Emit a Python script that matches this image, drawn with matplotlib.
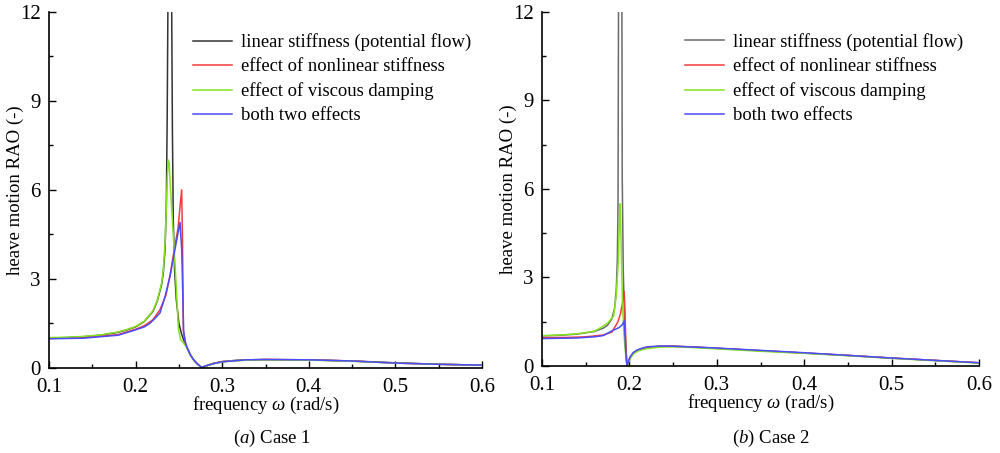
import matplotlib
matplotlib.use("Agg")
import matplotlib.pyplot as plt
from matplotlib.ticker import MultipleLocator

plt.rcParams["font.family"] = ["Liberation Serif", "DejaVu Serif"]
plt.rcParams["mathtext.fontset"] = "custom"
plt.rcParams["mathtext.rm"] = "Liberation Serif"
plt.rcParams["mathtext.it"] = "Liberation Serif:italic"

labels = ["linear stiffness (potential flow)", "effect of nonlinear stiffness",
          "effect of viscous damping", "both two effects"]
colors = [["#333333", "#f23c3c", "#86e21c", "#4a4aff"],
          ["#6a6a6a", "#f23c3c", "#86e21c", "#4a4aff"]]

# Case 1
f1_lin = [0.10, 0.12, 0.14, 0.16, 0.18, 0.19, 0.20, 0.21, 0.22, 0.225,
          0.23, 0.232, 0.234, 0.2355, 0.2365, 0.2375, 0.2415, 0.2425, 0.2435, 0.245,
          0.247, 0.25, 0.253, 0.256, 0.259, 0.263, 0.267, 0.271, 0.2763, 0.28,
          0.285, 0.29, 0.30, 0.315, 0.33, 0.35, 0.40, 0.45, 0.50, 0.55, 0.60]
r1_lin = [1.00, 1.02, 1.05, 1.10, 1.20, 1.28, 1.38, 1.56, 1.90, 2.25,
          2.80, 3.20, 4.00, 5.50, 8.50, 13.0, 13.0, 8.0, 5.0, 3.3,
          2.3, 1.5, 1.15, 0.90, 0.70, 0.45, 0.27, 0.14, 0.01, 0.05,
          0.10, 0.15, 0.21, 0.25, 0.27, 0.28, 0.27, 0.23, 0.17, 0.12, 0.09]

f1_nonl = [0.10, 0.14, 0.18, 0.20, 0.21, 0.22, 0.228, 0.235, 0.24, 0.245,
           0.249, 0.2515, 0.2532, 0.2542, 0.2551, 0.2575, 0.259, 0.263, 0.267, 0.271,
           0.2763, 0.28, 0.29, 0.30, 0.33, 0.35, 0.40, 0.45, 0.50, 0.55, 0.60]
r1_nonl = [0.99, 1.02, 1.12, 1.30, 1.42, 1.62, 1.95, 2.45, 3.15, 4.05,
           4.70, 5.50, 6.00, 4.20, 1.28, 0.85, 0.72, 0.45, 0.27, 0.14,
           0.01, 0.05, 0.15, 0.21, 0.27, 0.28, 0.27, 0.23, 0.16, 0.12, 0.09]

f1_visc = [0.10, 0.12, 0.14, 0.16, 0.18, 0.19, 0.20, 0.21, 0.22, 0.225,
           0.23, 0.232, 0.234, 0.2355, 0.2366, 0.2377, 0.2388, 0.240, 0.2418, 0.2435,
           0.2467, 0.2494, 0.252, 0.255, 0.259, 0.263, 0.267, 0.271, 0.2763, 0.28,
           0.285, 0.29, 0.30, 0.315, 0.33, 0.35, 0.40, 0.45, 0.50, 0.55, 0.60]
r1_visc = [1.02, 1.03, 1.06, 1.11, 1.21, 1.29, 1.39, 1.57, 1.92, 2.27,
           2.85, 3.30, 4.20, 5.40, 6.40, 7.00, 6.90, 6.20, 5.30, 4.50,
           2.86, 1.30, 0.95, 0.85, 0.68, 0.44, 0.26, 0.13, 0.01, 0.05,
           0.10, 0.14, 0.20, 0.24, 0.26, 0.27, 0.26, 0.22, 0.16, 0.12, 0.09]

f1_both = [0.10, 0.14, 0.18, 0.20, 0.21, 0.2165, 0.2228, 0.2282, 0.234, 0.2397,
           0.2455, 0.249, 0.2513, 0.2532, 0.2545, 0.2555, 0.2575, 0.259, 0.263, 0.267,
           0.271, 0.2763, 0.28, 0.29, 0.2994, 0.315, 0.328, 0.35, 0.40, 0.45,
           0.50, 0.55, 0.60]
r1_both = [0.98, 1.00, 1.10, 1.28, 1.38, 1.50, 1.68, 1.85, 2.40, 3.08,
           4.00, 4.55, 4.90, 4.00, 2.50, 1.20, 0.85, 0.72, 0.45, 0.27,
           0.14, 0.01, 0.06, 0.14, 0.20, 0.24, 0.27, 0.28, 0.27, 0.23,
           0.16, 0.12, 0.09]

# Case 2
f2_lin = [0.10, 0.12, 0.14, 0.16, 0.17, 0.175, 0.18, 0.183, 0.185, 0.1862,
          0.1870, 0.1876, 0.1914, 0.1918, 0.193, 0.1945, 0.1958, 0.1972, 0.199, 0.201,
          0.205, 0.21, 0.22, 0.235, 0.25, 0.27, 0.30, 0.35, 0.40, 0.45,
          0.50, 0.55, 0.60]
r2_lin = [1.02, 1.04, 1.08, 1.17, 1.28, 1.38, 1.60, 1.95, 2.60, 3.60,
          5.50, 12.8, 12.8, 6.40, 3.20, 1.60, 0.70, 0.00, 0.15, 0.30,
          0.45, 0.54, 0.62, 0.67, 0.67, 0.65, 0.60, 0.52, 0.44, 0.36,
          0.27, 0.19, 0.11]

f2_nonl = [0.10, 0.13, 0.15, 0.17, 0.18, 0.1869, 0.190, 0.1925, 0.194, 0.1948,
           0.1958, 0.1968, 0.1975, 0.199, 0.201, 0.205, 0.21, 0.22, 0.235, 0.25,
           0.27, 0.30, 0.35, 0.40, 0.45, 0.50, 0.55, 0.60]
r2_nonl = [0.96, 0.97, 0.99, 1.05, 1.15, 1.50, 1.80, 2.20, 2.52, 2.00,
           0.90, 0.20, 0.00, 0.15, 0.30, 0.45, 0.54, 0.62, 0.67, 0.67,
           0.65, 0.60, 0.52, 0.44, 0.36, 0.27, 0.19, 0.11]

f2_visc = [0.10, 0.12, 0.14, 0.16, 0.1667, 0.175, 0.182, 0.185, 0.1872, 0.1885,
           0.1895, 0.1905, 0.192, 0.1935, 0.195, 0.1965, 0.1975, 0.199, 0.201, 0.205,
           0.21, 0.22, 0.235, 0.25, 0.27, 0.30, 0.35, 0.40, 0.45, 0.50,
           0.55, 0.60]
r2_visc = [1.03, 1.05, 1.09, 1.18, 1.29, 1.45, 1.70, 2.40, 3.50, 4.80,
           5.50, 4.20, 2.20, 1.20, 0.60, 0.15, 0.00, 0.12, 0.26, 0.42,
           0.51, 0.59, 0.64, 0.65, 0.63, 0.58, 0.50, 0.43, 0.35, 0.26,
           0.18, 0.10]

f2_both = [0.10, 0.121, 0.14, 0.16, 0.17, 0.182, 0.188, 0.192, 0.1941, 0.195,
           0.196, 0.1972, 0.199, 0.201, 0.2045, 0.2086, 0.214, 0.22, 0.2353, 0.25,
           0.2924, 0.35, 0.40, 0.45, 0.50, 0.55, 0.60]
r2_both = [0.93, 0.94, 0.95, 0.99, 1.03, 1.22, 1.30, 1.40, 1.53, 1.00,
           0.40, 0.00, 0.18, 0.32, 0.46, 0.54, 0.60, 0.65, 0.68, 0.67,
           0.62, 0.53, 0.45, 0.36, 0.27, 0.19, 0.11]

cases = [
    [(f1_lin, r1_lin), (f1_nonl, r1_nonl), (f1_visc, r1_visc), (f1_both, r1_both)],
    [(f2_lin, r2_lin), (f2_nonl, r2_nonl), (f2_visc, r2_visc), (f2_both, r2_both)],
]
captions = ["($a$) Case 1", "($b$) Case 2"]

fig = plt.figure(figsize=(10, 4.53), dpi=100)
boxes = [[0.049, 0.188, 0.433, 0.786], [0.542, 0.192, 0.437, 0.782]]
leg_x = [0.333, 0.328]
cap_x = [0.272, 0.771]

for i, series in enumerate(cases):
    ax = fig.add_axes(boxes[i])
    for (f, r), c, lab in zip(series, colors[i], labels):
        ax.plot(f, r, color=c, lw=1.1, label=lab)
    ax.set_xlim(0.1, 0.6)
    ax.set_ylim(0, 12)
    ax.xaxis.set_major_locator(MultipleLocator(0.1))
    ax.xaxis.set_minor_locator(MultipleLocator(0.05))
    ax.yaxis.set_major_locator(MultipleLocator(3))
    ax.yaxis.set_minor_locator(MultipleLocator(1.5))
    ax.spines["top"].set_visible(False)
    ax.spines["right"].set_visible(False)
    ax.spines["left"].set_linewidth(1.2)
    ax.spines["bottom"].set_linewidth(1.2)
    ax.tick_params(which="both", direction="in", labelsize=15, width=1.0)
    ax.tick_params(axis="x", which="major", length=5, pad=7)
    ax.tick_params(axis="y", which="major", length=5, pad=6)
    ax.tick_params(which="minor", length=3)
    ax.set_xlabel("frequency $\\omega$ (rad/s)", fontsize=13.5, labelpad=-1)
    ax.set_ylabel("heave motion RAO (-)", fontsize=13.5, labelpad=-3)
    ax.legend(loc="upper left", bbox_to_anchor=(leg_x[i], 0.94), frameon=False,
              fontsize=13.4, handlelength=2.1, handletextpad=0.45,
              labelspacing=0.38, borderpad=0, borderaxespad=0)
    fig.text(cap_x[i], 0.033, captions[i], ha="center", va="center", fontsize=13.5)

fig.savefig("out.png", dpi=100)
